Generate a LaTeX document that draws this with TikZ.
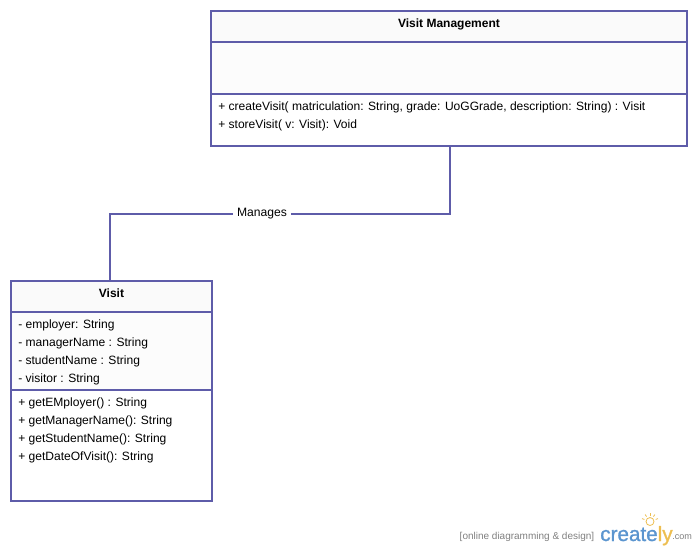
\documentclass[tikz,border=0pt]{standalone}
\usepackage{fontspec}
\setmainfont{Liberation Sans}
\newfontfamily\logofont[FakeBold=1.2]{Liberation Sans}
\usetikzlibrary{positioning,calc}
\definecolor{umlline}{HTML}{5E5CA9}
\definecolor{headfill}{HTML}{FAFAFA}
\definecolor{attrfill}{HTML}{FCFCFC}
\definecolor{logoblue}{HTML}{5B95CF}
\definecolor{logoyellow}{HTML}{EDBE50}
\tikzset{
  x=0.75pt,y=-0.75pt,
  umlbox/.style n args={2}{draw=umlline,line width=1.5pt,minimum width=#1,minimum height=#2,inner sep=0pt,outer sep=0pt,anchor=north west},
  divider/.style={draw=umlline,line width=1.5pt},
  conn/.style={draw=umlline,line width=1.5pt},
  title/.style={font=\fontsize{9}{10}\selectfont\bfseries,anchor=base,inner sep=0pt},
  member/.style={font=\fontsize{9.04}{10}\selectfont,anchor=base west,inner sep=0pt,text=black},
  linklabel/.style={font=\fontsize{9.1}{10}\selectfont,fill=white,inner xsep=3.2pt,inner ysep=1.5pt,anchor=base},
  tagline/.style={font=\fontsize{7.5}{8}\selectfont,text=black!50,anchor=base east,inner sep=0pt},
}
\begin{document}
\begin{tikzpicture}
\useasboundingbox (0,0) rectangle (698,551);
% Visit Management
\fill[headfill] (211,11) rectangle (687,42);
\fill[attrfill] (211,42) rectangle (687,94);
\node[umlbox={357pt}{101.25pt}] (vm) at (211,11) {};
\draw[divider] (211,42) -- (687,42);
\draw[divider] (211,94) -- (687,94);
\node[title] (vmtitle) at (449,27) {Visit Management};
\node[member] (vmop1) at (218,110) {+ createVisit( matriculation: String, grade: UoGGrade, description: String) : Visit};
\node[member] (vmop2) at (218,128) {+ storeVisit( v: Visit): Void};
% Visit
\fill[headfill] (11,281) rectangle (212,312);
\fill[attrfill] (11,312) rectangle (212,390);
\node[umlbox={150.75pt}{165pt}] (visit) at (11,281) {};
\draw[divider] (11,312) -- (212,312);
\draw[divider] (11,390) -- (212,390);
\node[title] (vtitle) at (111.5,297) {Visit};
\node[member] (a1) at (18,328) {- employer: String};
\node[member] (a2) at (18,346) {- managerName : String};
\node[member] (a3) at (18,364) {- studentName : String};
\node[member] (a4) at (18,382) {- visitor : String};
\node[member] (o1) at (18,406) {+ getEMployer() : String};
\node[member] (o2) at (18,424) {+ getManagerName(): String};
\node[member] (o3) at (18,442) {+ getStudentName(): String};
\node[member] (o4) at (18,460) {+ getDateOfVisit(): String};
% connector
\coordinate (bendmid) at (262,214);
\coordinate (vmport) at ($(vm.south)+(1,0)$);
\coordinate (vport) at ($(visit.north)+(-1.5,0)$);
\draw[conn] (vmport) |- (bendmid) -| (vport);
\node[linklabel] (manages) at (262,216) {Manages};
% watermark
\node[tagline] (tag) at (594.5,539) {[online diagramming \& design]};
\node[font=\logofont\fontsize{15.5}{18}\selectfont,inner sep=0pt,anchor=base west,text=logoblue] (logo) at (600,541) {create\textcolor{logoyellow}{ly}};
\node[font=\fontsize{6.8}{8}\selectfont,inner sep=0pt,anchor=base west,text=black!50] (dotcom) at (672,539) {.com};
\draw[logoyellow,line width=0.6pt,fill=white] (650,521.5) circle[radius=4];
\foreach \a in {200,235,270,305,340}
  \draw[logoyellow,line width=0.6pt] (650,521.5) ++(\a:6) -- ++(\a:2.5);
\end{tikzpicture}
\end{document}
